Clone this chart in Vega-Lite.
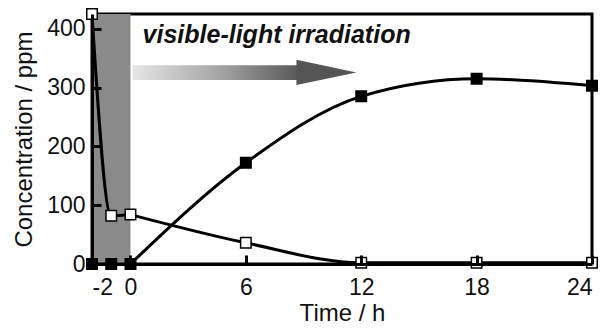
{
  "$schema": "https://vega.github.io/schema/vega-lite/v6.json",
  "width": 500,
  "height": 250,
  "autosize": "none",
  "padding": {"left": 92, "top": 14, "right": 16, "bottom": 65},
  "background": "white",
  "config": {
    "font": "Liberation Sans",
    "view": {"stroke": "black", "strokeWidth": 3},
    "axis": {
      "domainColor": "black", "domainWidth": 3,
      "tickColor": "black", "tickWidth": 3,
      "labelFont": "Liberation Sans", "labelFontSize": 23, "labelColor": "#111",
      "titleFont": "Liberation Sans", "titleFontSize": 24, "titleFontWeight": "normal", "titleColor": "#111",
      "grid": false
    }
  },
  "resolve": {"axis": {"x": "independent", "y": "independent"}},
  "datasets": {
    "series": [
      {"t": -2, "conc": 425, "gas": "open"},
      {"t": -1, "conc": 82, "gas": "open"},
      {"t": 0, "conc": 84, "gas": "open"},
      {"t": 6, "conc": 36, "gas": "open"},
      {"t": 12, "conc": 2, "gas": "open"},
      {"t": 18, "conc": 2, "gas": "open"},
      {"t": 24, "conc": 2, "gas": "open"},
      {"t": -2, "conc": 0, "gas": "filled"},
      {"t": -1, "conc": 0, "gas": "filled"},
      {"t": 0, "conc": 0, "gas": "filled"},
      {"t": 6, "conc": 172, "gas": "filled"},
      {"t": 12, "conc": 285, "gas": "filled"},
      {"t": 18, "conc": 315, "gas": "filled"},
      {"t": 24, "conc": 303, "gas": "filled"}
    ]
  },
  "layer": [
    {
      "data": {"values": [{"start": -2, "end": 0}]},
      "mark": {"type": "rect", "color": "#8a8a8a"},
      "encoding": {
        "x": {"field": "start", "type": "quantitative", "scale": {"domain": [-2, 24], "nice": false}, "axis": null},
        "x2": {"field": "end"}
      }
    },
    {
      "data": {"values": [{"x0": 0.11, "x1": 8.7, "y0": 313, "y1": 338}]},
      "mark": {"type": "rect", "color": {"gradient": "linear", "stops": [{"offset": 0, "color": "#e6e6e6"}, {"offset": 0.5, "color": "#a8a8a8"}, {"offset": 1, "color": "#5a5a5a"}]}},
      "encoding": {
        "x": {"field": "x0", "type": "quantitative", "axis": null},
        "x2": {"field": "x1"},
        "y": {"field": "y0", "type": "quantitative", "axis": null},
        "y2": {"field": "y1"}
      }
    },
    {
      "data": {"values": [{"x": 10.19, "y": 325.6}]},
      "mark": {"type": "point", "shape": "M -1 -0.42 L 1 0 L -1 0.42 Z", "filled": true, "color": "#555555", "size": 3600, "opacity": 1},
      "encoding": {
        "x": {"field": "x", "type": "quantitative", "axis": null},
        "y": {"field": "y", "type": "quantitative", "axis": null}
      }
    },
    {
      "data": {"name": "series"},
      "transform": [{"filter": "datum.gas === 'open' && datum.t <= 0"}],
      "mark": {"type": "line", "interpolate": "monotone", "color": "black", "strokeWidth": 3},
      "encoding": {
        "x": {"field": "t", "type": "quantitative", "axis": null},
        "y": {"field": "conc", "type": "quantitative", "axis": null}
      }
    },
    {
      "data": {"name": "series"},
      "transform": [{"filter": "datum.gas === 'open' && datum.t >= 0"}],
      "mark": {"type": "line", "interpolate": "monotone", "color": "black", "strokeWidth": 3},
      "encoding": {
        "x": {"field": "t", "type": "quantitative", "axis": null},
        "y": {"field": "conc", "type": "quantitative", "axis": null}
      }
    },
    {
      "data": {"name": "series"},
      "transform": [{"filter": "datum.gas === 'filled' && datum.t <= 0"}],
      "mark": {"type": "line", "color": "black", "strokeWidth": 3},
      "encoding": {
        "x": {"field": "t", "type": "quantitative", "axis": null},
        "y": {"field": "conc", "type": "quantitative", "axis": null}
      }
    },
    {
      "data": {"name": "series"},
      "transform": [{"filter": "datum.gas === 'filled' && datum.t >= 0"}],
      "mark": {"type": "line", "interpolate": "monotone", "color": "black", "strokeWidth": 3},
      "encoding": {
        "x": {"field": "t", "type": "quantitative", "axis": {"orient": "bottom", "values": [0, 6, 12, 18, 24], "labels": false, "domain": false, "title": null, "ticks": true, "tickSize": 9, "offset": -9, "zindex": 2}},
        "y": {"field": "conc", "type": "quantitative", "axis": {"orient": "left", "values": [100, 200, 300, 400], "labels": false, "domain": false, "title": null, "ticks": true, "tickSize": 9, "offset": -9, "zindex": 2}}
      }
    },
    {
      "data": {"name": "series"},
      "mark": {"type": "point", "shape": "square", "size": 110, "strokeWidth": 1.5, "opacity": 1},
      "encoding": {
        "x": {
          "field": "t", "type": "quantitative",
          "scale": {"domain": [-2, 24], "nice": false, "zero": false},
          "axis": {"orient": "bottom", "values": [-2, 0, 6, 12, 18, 24], "ticks": false, "zindex": 1, "title": "Time / h", "titleFontWeight": "normal", "labelPadding": 12, "titlePadding": 2, "labelExpr": "datum.value < 0 ? '-' + abs(datum.value) : datum.label"}
        },
        "y": {
          "field": "conc", "type": "quantitative",
          "scale": {"domain": [0, 425], "nice": false},
          "axis": {"orient": "left", "values": [0, 100, 200, 300, 400], "ticks": false, "zindex": 1, "title": "Concentration / ppm", "titleFontWeight": "normal", "labelPadding": 7, "titlePadding": 10}
        },
        "fill": {"field": "gas", "type": "nominal", "scale": {"domain": ["open", "filled"], "range": ["white", "black"]}, "legend": null},
        "stroke": {"value": "black"}
      }
    },
    {
      "data": {"values": [{"x": 0.63, "y": 376, "label": "visible-light irradiation"}]},
      "mark": {"type": "text", "font": "Liberation Sans", "fontSize": 25, "fontWeight": "bold", "fontStyle": "italic", "align": "left", "baseline": "alphabetic", "color": "#111"},
      "encoding": {
        "x": {"field": "x", "type": "quantitative", "axis": null},
        "y": {"field": "y", "type": "quantitative", "axis": null},
        "text": {"field": "label"}
      }
    }
  ]
}
